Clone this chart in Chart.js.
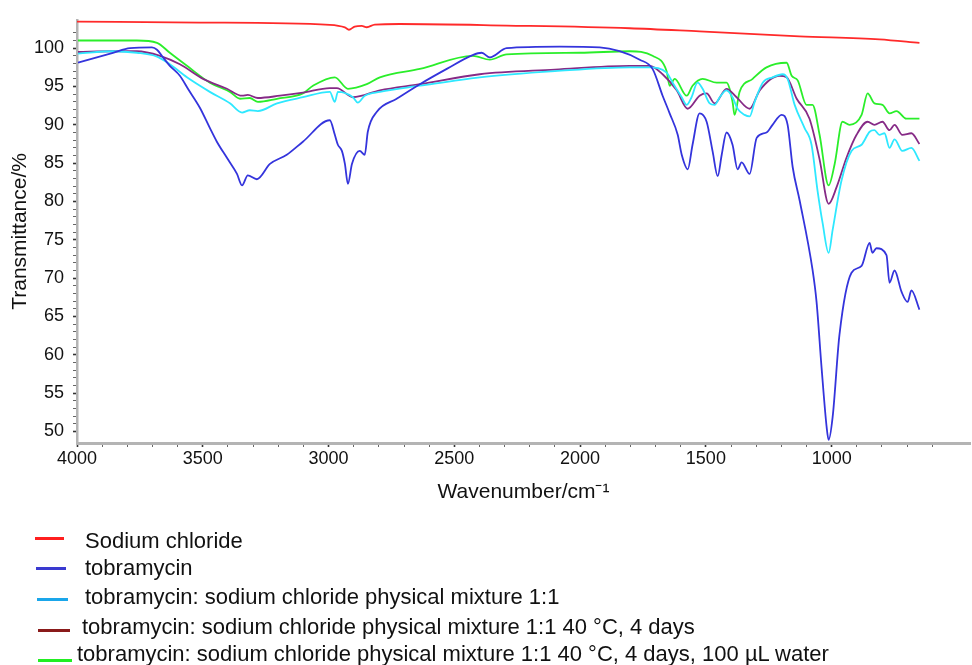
<!DOCTYPE html>
<html>
<head>
<meta charset="utf-8">
<script src="https://cdn.jsdelivr.net/npm/chart.js@4.4.1/dist/chart.umd.min.js"></script>
<style>
  html, body { margin: 0; padding: 0; background: #ffffff; }
  #wrap { position: relative; width: 972px; height: 665px; overflow: hidden; }
  canvas { position: absolute; left: 0; top: 0; }
  .leg { position: absolute; font-family: "Liberation Sans", Arial, sans-serif; font-size: 22px; color: #111; white-space: nowrap; }
  .leg .sw { position: absolute; height: 3px; }
  .leg .tx { position: absolute; line-height: 24px; }
</style>
</head>
<body>
<div id="wrap">
  <canvas id="c" width="972" height="665"></canvas>
  <div id="legend"></div>
</div>
<script>
// ---------- data ----------
const seriesNames = [
  "Sodium chloride",
  "tobramycin",
  "tobramycin: sodium chloride physical mixture 1:1",
  "tobramycin: sodium chloride physical mixture 1:1 40 \u00B0C, 4 days",
  "tobramycin: sodium chloride physical mixture 1:1 40 \u00B0C, 4 days, 100 \u00B5L water"
];

const naclWn = [4000,3511,2995,2935,2919,2896,2868,2848,2816,2717,2292,1803,1525,1128,810,651];
const naclT  = [103.47,103.34,103.04,102.7,102.4,102.82,102.9,102.73,103.08,103.15,102.95,102.6,102.18,101.54,101.16,100.68];

const tobWn = [3996,3857,3789,3702,3682,3658,3631,3591,3559,3511,3472,3444,3404,3364,3344,3321,3285,3233,3166,3102,
               2995,2975,2963,2947,2935,2923,2907,2876,2856,2844,2808,2729,2637,2530,2427,2391,2359,2292,2081,1922,
               1843,1763,1712,1672,1644,1612,1596,1572,1553,1525,1497,1473,1453,1437,1418,1394,1374,1358,1326,1298,
               1259,1235,1199,1175,1155,1127,1076,1060,1040,1020,1012,996,969,921,881,849,838,822,782,770,
               750,722,698,683,651];
const tobT  = [98.1,99.4,100,100.1,99.8,98.8,97.7,96.4,94.7,92.2,89.6,87.8,85.7,83.6,82.1,83.4,82.9,84.9,86.1,87.8,
               90.6,88.7,87.4,86.6,84.9,82.3,84.9,86.6,86.1,89.1,91.7,93.4,95.3,97.3,99.1,99.4,98.8,100,100.2,100.1,
               99.6,98.5,97.3,93.8,91.5,88.7,86.1,84.2,87.4,91.5,90.4,86.5,83.3,86.1,89,87.4,84.2,85.1,83.6,88.3,
               89,90,91.3,90,84.5,80.1,71.1,66.9,58.3,50.6,48.9,51.9,62.6,70.7,71.6,74.6,73.3,73.9,73,69.4,
               71,68.2,66.9,68.4,65.9];

const mixWn = [3996,3857,3762,3682,3631,3563,3472,3392,3344,3313,3281,3205,3102,2995,2975,2963,2903,2884,2856,2796,
               2637,2399,2100,1803,1723,1656,1632,1596,1576,1557,1533,1513,1485,1465,1445,1418,1394,1374,1346,1326,
               1306,1274,1235,1195,1175,1147,1108,1080,1056,1036,1012,996,961,921,881,849,830,810,790,770,
               750,719,683,651];
const mixT  = [99.3,99.6,99.4,98.9,97.9,96.2,94.3,92.8,91.6,91.9,91.8,92.8,93.6,94.3,93,94.3,93.6,92.9,93.8,94.3,
               95.1,96.2,97,97.5,97.5,96.8,95.5,93.6,92.6,93.6,95.5,94.7,92.8,92.6,93.6,94.5,93.6,92.1,91.3,91.1,
               93,95.5,96.2,96.6,96,92.6,89.6,87.4,81.4,77.2,73.3,76.3,82.7,86.6,87.4,89.1,89.3,88.7,88.9,87,
               88.1,86.6,87,85.3];

const heatWn = [3996,3857,3762,3670,3591,3499,3404,3344,3321,3281,3193,3102,2995,2967,2903,2796,2637,2399,2100,1803,
                1723,1672,1616,1572,1525,1497,1465,1418,1378,1326,1286,1207,1179,1139,1088,1048,1012,980,941,901,
                857,830,798,770,750,719,683,651];
const heatT  = [99.5,99.6,99.6,99,97.9,96,94.7,93.8,93.9,93.5,93.8,94.2,94.8,94.8,93.6,94.5,95.3,96.6,97.2,97.7,
                97.7,96.6,94.5,92.1,93.8,94.1,92.8,94.7,93.6,92.1,94.5,96.4,96.2,93.4,90.8,85.5,79.7,81.9,85.7,88.7,
                90.4,90,90.4,89.3,90,88.7,88.9,87.5];

const waterWn = [3996,3857,3762,3682,3631,3563,3472,3392,3352,3313,3281,3205,3102,3062,2975,2923,2848,2796,2637,2427,
                 2359,2292,2000,1803,1712,1656,1644,1624,1576,1553,1513,1457,1418,1394,1386,1366,1314,1259,1179,1159,
                 1135,1100,1076,1048,1012,988,957,929,881,857,830,798,770,742,703,651];
const waterT  = [101,101,101,100.7,99.4,97.7,95.5,94.3,93.4,93.5,93,93.4,94.1,95.1,96.2,94.7,95.3,96.2,97.3,99,
                 98.5,99.2,99.4,99.6,99,97,95.1,96,93.8,95.1,96,95.5,95.5,93,91.3,94.3,96,97.5,98.1,96.4,
                 95.8,92.6,92.6,88.7,82.1,84.9,90.4,90,91.3,94.1,92.8,92.6,91.5,91.8,90.8,90.8];

const xTickLabels = [4000,3500,3000,2500,2000,1500,1000,500];
const yTickLabels = [50,55,60,65,70,75,80,85,90,95,100];

// ---------- styles ----------
const lineColors   = ["#ff2a2a", "#3434dc", "#2ee8ff", "#862a86", "#2aee2a"];
const legendColors = ["#ff1f1f", "#3a3ad0", "#1aa6ea", "#8a1a1a", "#22ee22"];
const FONT = '"Liberation Sans", Arial, sans-serif';

function pts(wn, t) { return wn.map((w, i) => ({ x: w, y: t[i] })); }
const seriesData = [pts(naclWn, naclT), pts(tobWn, tobT), pts(mixWn, mixT), pts(heatWn, heatT), pts(waterWn, waterT)];
const datasets = seriesData.map((d, i) => ({
  label: seriesNames[i],
  data: d,
  borderColor: lineColors[i],
  borderWidth: 1.8,
  pointRadius: 0,
  fill: false,
  cubicInterpolationMode: 'monotone'
}));

const ctx = document.getElementById('c').getContext('2d');
new Chart(ctx, {
  type: 'line',
  data: { datasets },
  options: {
    responsive: false,
    animation: false,
    layout: { padding: { left: 0, top: 13, right: 2, bottom: 0 } },
    plugins: { legend: { display: false }, tooltip: { enabled: false } },
    scales: {
      x: {
        type: 'linear',
        reverse: true,
        min: 450,
        max: 4000,
        afterFit: (s) => { s.height = 222; },
        border: { color: '#b4b4b4', width: 3 },
        grid: {
          drawOnChartArea: false,
          drawTicks: true,
          tickLength: 4,
          tickColor: (c) => (c.tick && xTickLabels.includes(c.tick.value)) ? '#333' : '#666',
          tickWidth: (c) => (c.tick && xTickLabels.includes(c.tick.value)) ? 1.6 : 1
        },
        ticks: {
          stepSize: 100,
          autoSkip: false,
          maxRotation: 0,
          padding: 1,
          color: '#111',
          font: { family: FONT, size: 18 },
          callback: (v) => {
            if (v % 100 !== 0) return null;
            return xTickLabels.includes(v) ? String(v) : '';
          }
        },
        title: {
          display: true,
          text: 'Wavenumber/cm\u207B\u00B9',
          color: '#111',
          font: { family: FONT, size: 21 },
          padding: { top: 0, bottom: 160 }
        }
      },
      y: {
        type: 'linear',
        min: 48.5,
        max: 103.7,
        afterFit: (s) => { s.width = 77; },
        border: { color: '#b4b4b4', width: 2.5 },
        grid: {
          drawOnChartArea: false,
          drawTicks: true,
          tickLength: 4,
          tickColor: (c) => (c.tick && yTickLabels.includes(c.tick.value)) ? '#333' : '#666',
          tickWidth: (c) => (c.tick && yTickLabels.includes(c.tick.value)) ? 1.6 : 1
        },
        ticks: {
          stepSize: 1,
          autoSkip: false,
          padding: 9,
          color: '#111',
          font: { family: FONT, size: 18 },
          callback: (v) => {
            if (Math.abs(v - Math.round(v)) > 1e-6) return null;
            return yTickLabels.includes(Math.round(v)) ? String(Math.round(v)) : '';
          }
        },
        title: {
          display: true,
          text: 'Transmittance/%',
          color: '#111',
          font: { family: FONT, size: 21 },
          padding: { top: 8, bottom: 0 }
        }
      }
    }
  }
});

// ---------- legend (HTML, real text) ----------
const legendRows = [
  { lineX: 35, lineW: 29, lineY: 538, textX: 85, textY: 529 },
  { lineX: 36, lineW: 30, lineY: 568, textX: 85, textY: 556 },
  { lineX: 37, lineW: 31, lineY: 599, textX: 85, textY: 585 },
  { lineX: 38, lineW: 32, lineY: 630, textX: 82, textY: 615 },
  { lineX: 38, lineW: 34, lineY: 660, textX: 77, textY: 642 }
];
const legEl = document.getElementById('legend');
legendRows.forEach((r, i) => {
  const item = document.createElement('div');
  item.className = 'leg';
  item.style.left = '0px';
  item.style.top = '0px';
  const sw = document.createElement('div');
  sw.className = 'sw';
  sw.style.left = r.lineX + 'px';
  sw.style.top = (r.lineY - 1) + 'px';
  sw.style.width = r.lineW + 'px';
  sw.style.background = legendColors[i];
  const tx = document.createElement('div');
  tx.className = 'tx';
  tx.style.left = r.textX + 'px';
  tx.style.top = r.textY + 'px';
  tx.textContent = seriesNames[i];
  item.appendChild(sw);
  item.appendChild(tx);
  legEl.appendChild(item);
});
</script>
</body>
</html>
